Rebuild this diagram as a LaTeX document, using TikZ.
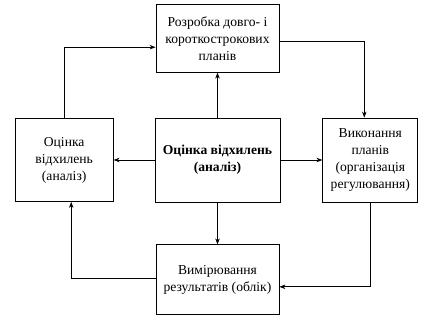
\documentclass[tikz,border=0pt]{standalone}
\usepackage{fontspec}
\setmainfont{Liberation Serif}
\usetikzlibrary{positioning, arrows.meta}

\begin{document}
\begin{tikzpicture}[
  x=1pt, y=-1pt,
  font=\fontsize{13.6}{17}\selectfont,
  box/.style={draw, line width=0.8pt, align=center, inner sep=2pt},
  arr/.style={-{Stealth[length=6pt, width=4.5pt]}, line width=0.7pt},
  every node/.style={anchor=center}
]
\useasboundingbox (0,0) rectangle (448,324);
\node[box, minimum width=125pt, minimum height=84pt, font=\fontsize{13.6}{17}\selectfont\bfseries] (core) at (217.5,160) {Оцінка відхилень\\(аналіз)};
\node[box, minimum width=123pt, minimum height=68pt, above=45pt of core] (plan) {Розробка довго- і\\короткострокових\\планів};
\node[box, minimum width=98pt, minimum height=83pt, left=41pt of core] (eval) {Оцінка\\відхилень\\(аналіз)};
\node[box, minimum width=95pt, minimum height=84pt, right=42pt of core] (exec) {Виконання\\планів\\(організація\\регулювання)};
\node[box, minimum width=123pt, minimum height=70pt, below=42pt of core] (meas) {Вимірювання\\результатів (облік)};
\draw[arr] (core) -- (plan);
\draw[arr] (core) -- (eval);
\draw[arr] (core) -- (exec);
\draw[arr] (core) -- (meas);
\draw[arr] (eval.north) |- ([yshift=-9pt]plan.west);
\draw[arr] ([yshift=-3pt]plan.east) -| ([xshift=-6pt]exec.north);
\draw[arr] (exec.south) |- ([yshift=-7pt]meas.east);
\draw[arr] ([yshift=1pt]meas.west) -| ([xshift=7pt]eval.south);
\end{tikzpicture}
\end{document}
